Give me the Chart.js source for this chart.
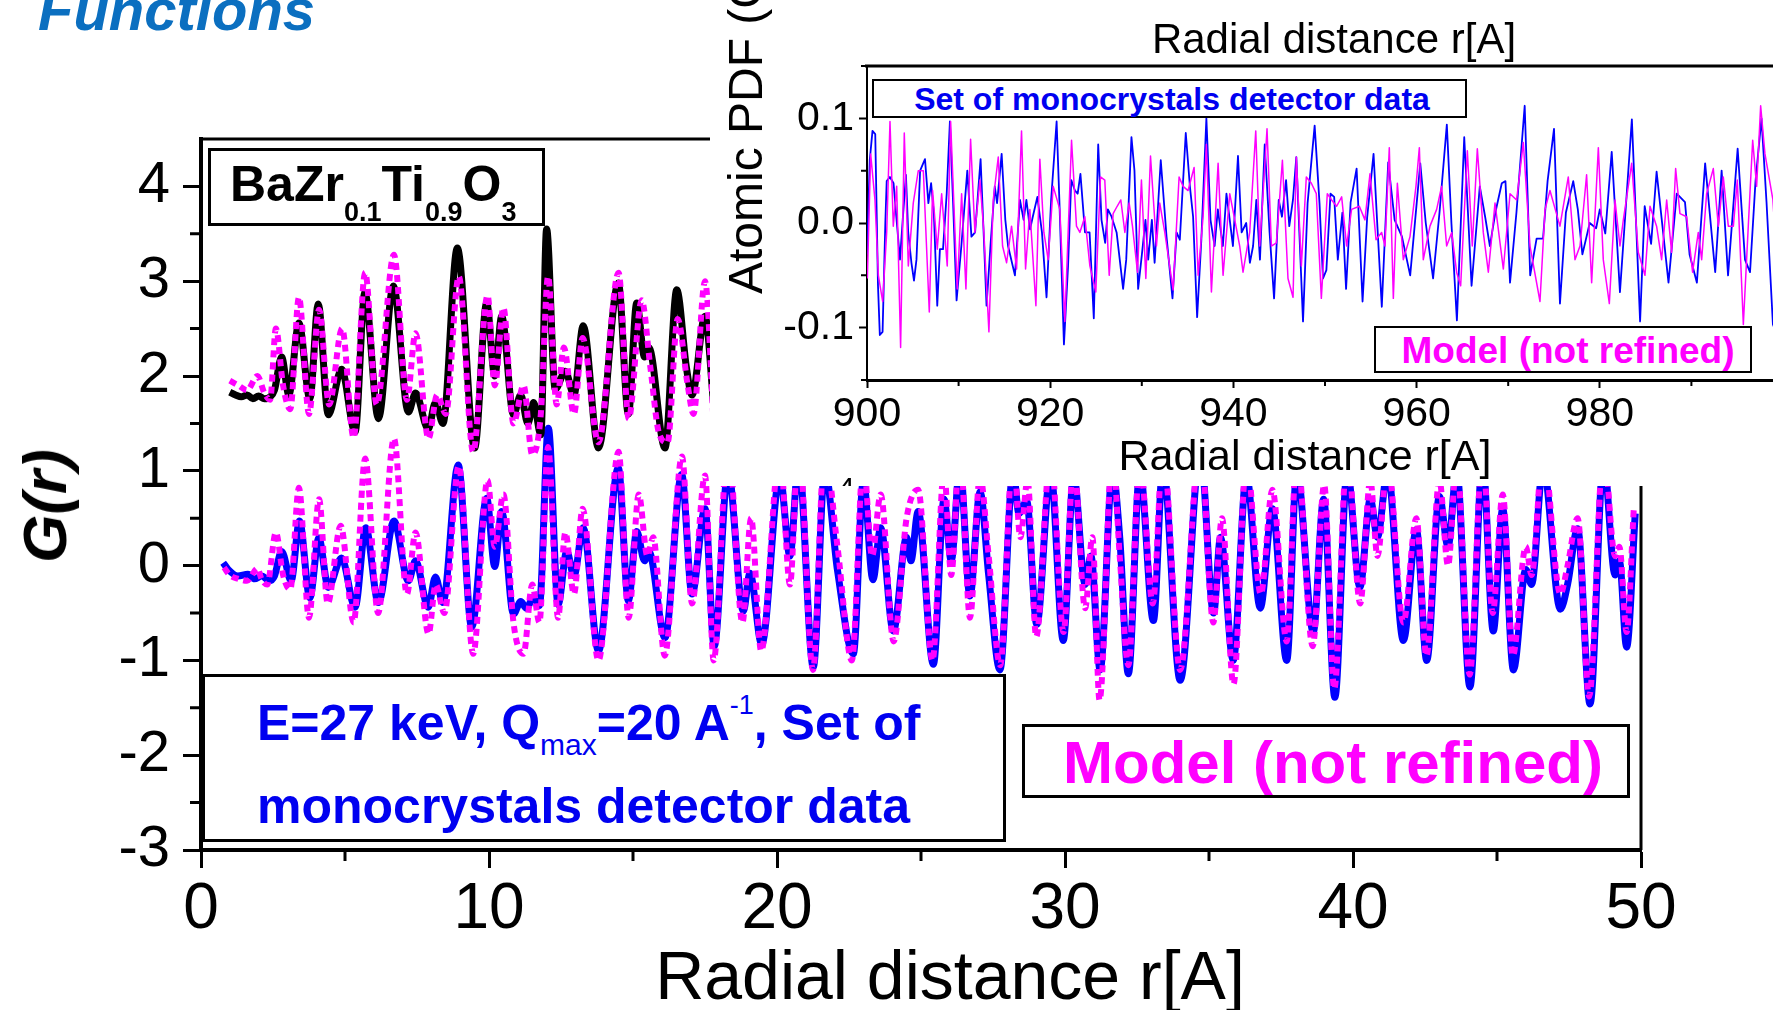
<!DOCTYPE html>
<html>
<head>
<meta charset="utf-8">
<title>G(r) - BaZr0.1Ti0.9O3</title>
<script src="https://cdn.jsdelivr.net/npm/chart.js"></script>
<style>
  html, body { margin: 0; padding: 0; background: #fff; overflow: hidden; }
  #page { position: relative; width: 1773px; height: 1010px; overflow: hidden; background: #fff;
          font-family: 'Liberation Sans', Arial, Helvetica, sans-serif; color: #000; }
  canvas { position: absolute; left: 0; top: 0; }
  .txt { position: absolute; white-space: nowrap; line-height: 1; }
  .box { position: absolute; box-sizing: border-box; border: 3px solid #000; background: #fff; }
  .sub { position: relative; top: 20px; font-size: 27px; }
  #inset { position: absolute; left: 710px; top: 0; width: 1090px; height: 486px; background: #fff; }
</style>
</head>
<body>
<div id="page">
  <canvas id="mainChart" width="1773" height="1010"></canvas>

  <!-- legend boxes of the main plot -->
  <div class="box" style="left:208px;top:148px;width:337px;height:78px;"></div>
  <div class="txt" style="left:230px;top:159px;font-size:50px;font-weight:bold;">BaZr<span class="sub">0.1</span>Ti<span class="sub">0.9</span>O<span class="sub">3</span></div>

  <div class="box" style="left:202px;top:674px;width:804px;height:168px;"></div>
  <div class="txt" style="left:257px;top:698px;font-size:50px;font-weight:bold;color:#0000f0;">E=27 keV, Q<span style="position:relative;top:15px;font-size:30px;font-weight:normal;">max</span>=20 A<span style="position:relative;top:-26px;font-size:27px;font-weight:normal;">-1</span>, Set of</div>
  <div class="txt" style="left:257px;top:781px;font-size:50px;font-weight:bold;color:#0000f0;">monocrystals detector data</div>

  <div class="box" style="left:1022px;top:724px;width:608px;height:74px;"></div>
  <div class="txt" style="left:1063px;top:733px;font-size:60px;font-weight:bold;color:#ff00ff;">Model (not refined)</div>

  <!-- axis titles -->
  <div class="txt" style="left:45px;top:506px;font-size:62px;font-weight:bold;font-style:italic;transform:translate(-50%,-50%) rotate(-90deg);">G(r)</div>
  <div class="txt" style="left:950px;top:941px;font-size:68px;transform:translateX(-50%);">Radial distance r[A]</div>

  <!-- far-r inset -->
  <div id="inset">
    <canvas id="insetChart" width="1090" height="486"></canvas>
    <div class="txt" style="left:624px;top:18px;font-size:42px;transform:translateX(-50%);">Radial distance r[A]</div>
    <div class="txt" style="left:595px;top:434px;font-size:43px;transform:translateX(-50%);">Radial distance r[A]</div>
    <div class="txt" style="left:12px;top:294px;font-size:48px;transform-origin:0 0;transform:rotate(-90deg);">Atomic PDF (G(r))</div>
    <div class="box" style="left:162px;top:79px;width:595px;height:39px;border-width:2px;"></div>
    <div class="txt" style="left:462px;top:83px;font-size:32px;font-weight:bold;color:#0000f0;transform:translateX(-50%);">Set of monocrystals detector data</div>
    <div class="box" style="left:664px;top:326px;width:378px;height:47px;border-width:2px;"></div>
    <div class="txt" style="left:858px;top:332px;font-size:37px;font-weight:bold;color:#ff00ff;transform:translateX(-50%);">Model (not refined)</div>
    <div style="position:absolute;left:128px;top:476px;width:20px;height:10px;overflow:hidden;">
      <div class="txt" style="left:0;top:-3px;font-size:30px;">4</div>
    </div>
  </div>

  <div class="txt" style="left:38px;top:-19px;font-size:58px;font-weight:bold;font-style:italic;color:#0b6fc0;">Functions</div>
</div>

<script>
// ---- main plot: G(r) vs r, points are [r, G] ----
const mainBlack = [[1.0,1.83],[1.2,1.80],[1.4,1.78],[1.6,1.80],[1.8,1.76],[2.0,1.79],[2.2,1.76],[2.4,1.78],[2.55,1.85],[2.8,2.20],
  [3.05,1.80],[3.4,2.56],[3.78,1.76],[4.07,2.76],[4.42,1.59],[4.88,2.07],[5.35,1.41],[5.69,2.88],[6.16,1.55],[6.68,2.95],
  [7.2,1.62],[7.45,1.82],[7.89,1.44],[8.14,1.72],[8.4,1.50],[8.9,3.35],[9.5,1.24],[9.92,2.77],[10.2,2.00],[10.44,2.63],
  [10.85,1.59],[11.1,1.80],[11.35,1.50],[11.55,1.72],[11.8,1.38],[12.0,3.55],[12.3,1.86],[12.65,2.05],[12.95,1.80],[13.27,2.53],
  [13.8,1.24],[14.49,2.98],[14.84,1.60],[15.13,2.77],[15.4,2.20],[15.55,2.30],[16.11,1.24],[16.52,2.91],[16.85,2.10],[17.05,1.80],
  [17.5,2.63],[17.8,1.70]];

const mainModelTop = [[1.0,1.95],[1.3,1.90],[1.6,1.85],[1.96,2.00],[2.2,1.82],[2.4,1.75],[2.6,2.50],[2.85,1.90],[3.1,1.65],[3.4,2.83],
  [3.75,1.60],[4.1,2.70],[4.45,1.70],[4.9,2.50],[5.3,1.35],[5.7,3.09],[6.1,1.70],[6.7,3.28],[7.15,1.75],[7.45,2.45],
  [7.9,1.34],[8.2,1.80],[8.5,1.60],[8.95,3.05],[9.45,1.20],[9.95,2.85],[10.2,1.90],[10.5,2.72],[10.85,1.50],[11.2,1.90],
  [11.5,1.17],[11.8,1.60],[12.05,3.05],[12.35,1.70],[12.6,2.30],[12.95,1.60],[13.25,2.40],[13.8,1.30],[14.5,3.09],[14.85,1.55],
  [15.3,2.80],[15.6,2.10],[15.9,1.40],[16.2,1.30],[16.55,2.60],[16.9,1.90],[17.1,1.60],[17.5,3.00],[17.8,1.50]];

const mainBlue = [[0.77,0.03],[0.94,-0.04],[1.28,-0.11],[1.63,-0.09],[1.86,-0.14],[2.1,-0.11],[2.38,-0.16],[2.55,-0.11],[2.8,0.15],[3.13,-0.16],
  [3.42,0.47],[3.78,-0.34],[4.09,0.29],[4.42,-0.23],[4.88,0.08],[5.35,-0.44],[5.72,0.40],[6.16,-0.39],[6.7,0.47],[7.2,-0.16],
  [7.45,0.05],[7.89,-0.44],[8.14,-0.12],[8.4,-0.39],[8.93,1.06],[9.4,-0.65],[9.92,0.71],[10.2,-0.01],[10.44,0.57],[10.85,-0.51],
  [11.1,-0.38],[11.3,-0.45],[11.55,-0.33],[11.75,-0.42],[12.06,1.45],[12.4,-0.41],[12.7,0.15],[12.95,-0.11],[13.27,0.40],[13.8,-0.90],
  [14.49,1.03],[14.84,-0.37],[15.13,0.36],[15.4,0.05],[15.55,0.15],[16.11,-0.76],[16.69,0.96],[17.05,-0.30],[17.5,0.60],[17.82,-0.85],
  [18.3,1.00],[18.83,-0.48],[19.06,-0.08],[19.47,-0.83],[20.1,0.95],[20.45,0.10],[20.75,1.10],[21.26,-1.07],[21.66,1.00],[22.1,-0.05],
  [22.65,-0.93],[23.0,0.90],[23.33,-0.15],[23.6,0.40],[24.04,-0.69],[24.5,0.30],[24.65,0.05],[24.9,0.57],[25.43,-1.04],[25.8,0.70],
  [26.05,0.05],[26.35,1.05],[26.7,-0.32],[27.05,0.78],[27.35,-0.10],[27.74,-1.10],[28.2,1.00],[28.4,0.55],[28.67,0.68],[29.02,-0.62],
  [29.5,1.00],[29.94,-0.79],[30.3,0.95],[30.7,-0.20],[30.9,0.10],[31.22,-1.10],[31.65,1.00],[31.9,0.30],[32.2,-1.14],[32.6,1.00],
  [33.07,-0.58],[33.4,1.05],[34.0,-1.21],[34.7,1.20],[35.16,-0.50],[35.4,0.30],[35.84,-1.00],[36.3,0.95],[36.78,-0.45],[37.2,0.60],
  [37.7,-1.00],[38.05,1.00],[38.62,-0.70],[38.98,0.70],[39.37,-1.39],[39.8,1.00],[40.24,-0.23],[40.6,0.70],[40.85,0.30],[41.2,1.00],
  [41.75,-0.79],[42.2,0.38],[42.56,-1.00],[43.0,0.73],[43.3,0.20],[43.6,1.00],[44.06,-1.28],[44.5,1.10],[44.87,-0.69],[45.2,0.60],
  [45.57,-1.10],[46.0,-0.04],[46.2,-0.20],[46.6,1.05],[47.2,-0.46],[47.45,-0.20],[47.8,0.39],[48.23,-1.46],[48.7,1.10],[49.1,-0.10],
  [49.25,0.05],[49.5,-0.86],[49.8,0.55]];

const mainModel = [[0.8,-0.02],[1.0,-0.10],[1.3,-0.14],[1.6,-0.16],[1.96,-0.03],[2.1,-0.14],[2.3,-0.20],[2.6,0.35],[2.85,-0.10],[3.1,-0.25],
  [3.4,0.82],[3.75,-0.55],[4.1,0.70],[4.4,-0.40],[4.85,0.42],[5.3,-0.60],[5.7,1.13],[6.15,-0.50],[6.7,1.34],[7.15,-0.30],
  [7.45,0.35],[7.9,-0.72],[8.15,-0.20],[8.45,-0.50],[8.95,1.05],[9.45,-0.93],[9.95,0.90],[10.2,0.20],[10.5,0.75],[10.85,-0.60],
  [11.2,-0.93],[11.5,-0.20],[11.75,-0.60],[12.05,1.25],[12.4,-0.55],[12.65,0.35],[12.95,-0.30],[13.25,0.60],[13.8,-1.00],[14.5,1.20],
  [14.85,-0.55],[15.2,0.75],[15.5,0.10],[15.7,0.30],[16.1,-0.95],[16.7,1.15],[17.05,-0.40],[17.5,0.95],[17.8,-1.00],[18.3,1.30],
  [18.8,-0.60],[19.1,0.50],[19.45,-0.90],[20.1,1.20],[20.45,-0.20],[20.75,1.30],[21.25,-1.10],[21.65,1.20],[22.1,0.20],[22.6,-1.00],
  [23.0,1.10],[23.3,0.10],[23.6,0.75],[24.05,-0.80],[24.5,0.50],[24.9,0.80],[25.4,-1.00],[25.8,1.00],[26.05,-0.10],[26.35,1.25],
  [26.7,-0.55],[27.05,0.95],[27.35,0.10],[27.75,-1.05],[28.2,1.20],[28.45,0.30],[28.7,0.90],[29.0,-0.75],[29.5,1.20],[29.95,-0.70],
  [30.3,1.10],[30.7,-0.45],[30.95,0.30],[31.2,-1.42],[31.65,1.20],[31.9,0.10],[32.2,-1.05],[32.6,1.10],[33.05,-0.40],[33.4,1.20],
  [34.0,-1.10],[34.7,1.30],[35.15,-0.60],[35.45,0.50],[35.85,-1.25],[36.3,1.10],[36.8,-0.30],[37.2,0.80],[37.7,-0.80],[38.05,1.20],
  [38.6,-0.85],[39.0,0.85],[39.35,-1.30],[39.8,1.20],[40.25,-0.40],[40.6,0.90],[40.85,0.10],[41.2,1.10],[41.75,-0.60],[42.2,0.50],
  [42.55,-0.95],[43.0,0.90],[43.3,0.00],[43.6,1.10],[44.05,-1.15],[44.5,1.20],[44.85,-0.50],[45.2,0.75],[45.55,-0.95],[46.0,0.20],
  [46.2,-0.10],[46.6,1.20],[47.2,-0.30],[47.45,0.00],[47.8,0.50],[48.2,-1.38],[48.7,1.20],[49.1,0.10],[49.25,0.20],[49.5,-0.70],
  [49.75,0.60]];

const mainXTicks = [0, 10, 20, 30, 40, 50];
const mainXMinor = [5, 15, 25, 35, 45];
const mainYTicks = [-3, -2, -1, 0, 1, 2, 3, 4];
const mainYMinor = [-2.5, -1.5, -0.5, 0.5, 1.5, 2.5, 3.5];

// ---- inset: atomic PDF between 900 and 1000 A ----
const insetBlue = [[900.0,-0.030],[900.3,0.060],[900.6,0.088],[900.9,0.085],[901.2,-0.060],[901.4,-0.107],[901.7,-0.104],[902.0,0.000],
  [902.15,0.040],[902.5,0.044],[902.9,0.038],[903.2,0.006],[903.6,-0.035],[903.9,0.003],[904.25,0.046],[904.5,-0.009],
  [904.85,-0.038],[905.13,-0.055],[905.4,-0.035],[905.8,0.050],[906.33,0.061],[906.7,0.019],[907.0,0.038],[907.3,0.009],
  [907.67,-0.079],[907.96,-0.025],[908.3,-0.025],[908.7,0.028],[909.05,0.097],[909.4,0.019],[909.78,-0.074],[910.3,-0.022],
  [910.95,0.050],[911.4,-0.013],[911.8,-0.009],[912.4,0.061],[912.75,-0.013],[913.05,-0.079],[913.5,-0.019],[913.95,0.035],
  [914.2,0.019],[914.7,0.066],[915.1,0.003],[915.4,-0.022],[916.15,-0.050],[916.7,0.022],[917.1,0.003],[917.4,0.022],
  [917.8,-0.006],[918.1,0.006],[918.6,0.025],[919.1,-0.009],[919.6,-0.071],[920.1,0.022],[920.7,0.097],[921.0,0.022],
  [921.5,-0.116],[921.95,-0.041],[922.3,0.041],[922.7,0.031],[923.0,0.028],[923.3,0.047],[923.8,-0.009],[924.3,-0.009],
  [924.76,-0.091],[925.24,0.075],[925.6,0.003],[926.0,-0.019],[926.3,0.013],[926.7,0.006],[927.25,-0.009],[927.96,-0.063],
  [928.3,-0.035],[928.87,0.082],[929.2,0.050],[929.6,-0.063],[930.0,-0.031],[930.4,0.003],[930.7,-0.035],[931.1,0.003],
  [931.4,-0.038],[932.07,0.060],[932.4,0.022],[932.7,-0.013],[933.35,-0.072],[933.8,-0.009],[934.15,-0.016],[934.8,0.086],
  [935.25,0.035],[935.6,0.006],[936.04,-0.090],[936.5,-0.016],[937.05,0.100],[937.5,0.003],[937.95,-0.022],[938.3,0.013],
  [938.85,-0.022],[939.24,0.028],[939.6,0.003],[939.95,-0.022],[940.5,0.064],[940.9,-0.009],[941.4,0.000],[941.8,-0.038],
  [942.15,-0.022],[942.5,0.022],[942.9,-0.035],[943.42,0.075],[943.95,-0.009],[944.44,-0.072],[944.95,0.022],[945.3,0.006],
  [945.75,0.041],[946.1,-0.003],[946.5,0.022],[946.87,0.063],[947.2,-0.009],[947.6,-0.094],[948.1,0.019],[948.87,0.093],
  [949.4,0.019],[949.78,-0.053],[950.15,-0.045],[950.6,0.028],[951.0,0.025],[951.4,-0.035],[951.9,0.010],[952.3,-0.063],
  [952.8,0.020],[953.45,0.052],[954.1,-0.075],[954.6,0.005],[955.3,0.066],[955.7,0.000],[956.2,-0.080],[956.9,0.058],
  [957.6,0.003],[958.4,-0.013],[959.3,-0.050],[960.4,0.057],[961.0,0.000],[961.8,-0.053],[962.5,0.010],[963.3,0.094],
  [963.8,0.000],[964.4,-0.093],[965.2,0.082],[966.0,-0.060],[966.9,0.035],[967.5,0.005],[968.0,-0.022],[968.6,0.010],
  [969.3,0.038],[969.7,0.040],[970.2,-0.057],[970.9,0.010],[971.8,0.112],[972.4,-0.050],[973.1,-0.015],[973.8,-0.015],
  [974.3,0.040],[975.0,0.090],[975.65,-0.077],[976.3,0.010],[977.1,0.040],[977.6,0.013],[978.1,-0.030],[978.9,0.000],
  [979.6,-0.005],[980.0,0.013],[980.6,-0.010],[981.3,0.068],[982.2,-0.066],[982.8,0.010],[983.5,0.099],[984.4,-0.094],
  [984.9,0.016],[985.6,-0.020],[986.2,0.049],[987.5,-0.057],[988.4,0.028],[989.3,0.020],[989.8,-0.030],[990.6,-0.057],
  [991.5,0.057],[992.6,-0.047],[993.3,0.050],[994.0,-0.050],[995.05,0.071],[995.85,-0.035],[996.4,-0.047],[997.0,0.040],
  [997.65,0.100],[998.2,0.020],[998.9,-0.097],[999.5,-0.110]];

const insetModel = [[900.04,-0.053],[900.4,0.066],[900.87,0.022],[901.24,-0.050],[901.71,-0.075],[902.15,-0.009],[902.51,0.097],[902.87,-0.003],
  [903.24,0.035],[903.67,-0.119],[904.07,0.086],[904.51,-0.041],[905.05,0.019],[905.6,0.050],[906.15,0.050],[906.8,-0.085],
  [907.16,0.031],[907.67,-0.025],[908.15,0.028],[908.76,-0.041],[909.13,0.097],[909.85,-0.063],[910.33,0.028],[910.8,-0.063],
  [911.31,0.080],[911.78,-0.009],[912.33,0.041],[912.76,-0.009],[913.31,-0.104],[913.78,0.022],[914.33,0.063],[914.8,-0.022],
  [915.24,-0.038],[915.78,-0.003],[916.33,-0.044],[916.87,0.088],[917.31,-0.044],[917.78,0.013],[918.44,-0.079],[918.87,0.061],
  [919.31,-0.009],[919.78,-0.035],[920.33,0.035],[921.05,0.013],[921.6,-0.094],[922.33,0.079],[922.87,-0.003],[923.24,-0.009],
  [923.78,0.006],[924.33,-0.041],[924.98,-0.066],[925.49,0.044],[925.96,0.041],[926.44,-0.050],[926.87,0.009],[927.31,0.016],
  [927.71,0.022],[928.15,-0.009],[928.62,0.019],[928.98,-0.003],[929.53,-0.047],[929.96,0.041],[930.44,-0.053],[930.95,0.064],
  [931.6,-0.022],[931.96,0.019],[932.51,-0.009],[933.42,-0.064],[934.07,0.044],[934.51,0.035],[935.05,0.031],[935.71,0.053],
  [936.15,-0.050],[936.69,0.006],[937.05,0.075],[937.6,-0.066],[938.33,0.057],[938.87,-0.050],[939.6,0.028],[940.15,0.003],
  [940.69,-0.022],[941.05,-0.047],[941.78,-0.009],[942.44,0.088],[942.87,-0.022],[943.24,0.028],[943.67,0.090],[944.15,-0.022],
  [944.69,-0.019],[945.35,0.060],[945.96,-0.053],[946.51,-0.071],[946.87,0.063],[947.42,-0.041],[947.96,0.044],[948.51,0.038],
  [949.05,0.028],[949.6,-0.072],[950.25,0.028],[950.72,0.022],[951.27,0.016],[951.82,0.025],[952.36,-0.022],[952.9,0.013],
  [953.75,0.016],[954.36,0.003],[954.91,0.047],[955.57,-0.016],[956.18,-0.009],[956.55,-0.022],[957.02,0.072],[957.46,-0.072],
  [957.9,0.038],[958.55,-0.035],[959.28,-0.013],[959.93,0.035],[960.3,0.072],[960.73,-0.035],[961.46,-0.003],[962.19,0.013],
  [962.73,0.035],[963.28,-0.022],[963.83,-0.009],[964.37,-0.047],[964.81,-0.060],[965.54,0.069],[966.08,-0.022],[966.63,0.071],
  [967.28,-0.009],[967.83,-0.047],[968.56,0.019],[969.47,-0.044],[970.2,0.028],[970.92,0.022],[971.65,0.077],[972.38,-0.022],
  [973.47,-0.075],[974.02,0.013],[974.56,0.031],[975.65,-0.003],[976.56,0.044],[977.29,-0.035],[977.84,-0.022],[978.56,0.046],
  [979.11,-0.057],[979.84,0.072],[980.38,-0.035],[981.04,-0.077],[981.66,0.022],[982.2,-0.022],[982.57,0.003],[983.48,0.057],
  [984.2,-0.028],[984.93,-0.050],[985.48,0.016],[986.2,-0.003],[986.75,-0.035],[987.3,0.022],[987.84,-0.028],[988.28,0.052],
  [988.75,0.009],[989.48,0.006],[990.13,-0.047],[990.75,-0.009],[991.12,-0.035],[991.66,0.028],[992.39,0.052],[992.94,-0.003],
  [993.48,0.044],[994.03,-0.003],[994.58,-0.003],[995.01,0.041],[995.67,-0.097],[996.21,-0.003],[996.69,0.079],[997.12,0.035],
  [997.56,0.112],[998.03,0.066],[998.9,0.022],[999.5,-0.060]];

const insetXTicks = [900, 920, 940, 960, 980];
const insetXMinor = [910, 930, 950, 970, 990];
const insetYTicks = [-0.1, 0, 0.1];
const insetYMinor = [-0.15, -0.05, 0.05, 0.15];

Chart.defaults.font.family = "'Liberation Sans', Arial, Helvetica, sans-serif";
Chart.defaults.color = '#000';

const toXY = pts => pts.map(([x, y]) => ({ x: x, y: y }));

// minor ticks + top/right frame lines, all placed with the chart's own scales
const axisExtras = {
  id: 'axisExtras',
  afterDraw(chart, args, opts) {
    const ctx = chart.ctx;
    const a = chart.chartArea;
    const sx = chart.scales.x, sy = chart.scales.y;
    ctx.save();
    ctx.strokeStyle = '#000';
    ctx.lineWidth = opts.minorWidth;
    ctx.beginPath();
    opts.minorX.forEach(v => {
      const px = sx.getPixelForValue(v);
      ctx.moveTo(px, a.bottom);
      ctx.lineTo(px, a.bottom + opts.minorLen);
    });
    opts.minorY.forEach(v => {
      const py = sy.getPixelForValue(v);
      ctx.moveTo(a.left, py);
      ctx.lineTo(a.left - opts.minorLen, py);
    });
    ctx.stroke();
    ctx.lineWidth = opts.frameWidth;
    ctx.beginPath();
    ctx.moveTo(a.left - 2, a.top);
    ctx.lineTo(a.right, a.top);
    ctx.lineTo(a.right, a.bottom);
    ctx.stroke();
    ctx.restore();
  }
};

function fixedTicks(values) {
  return scale => { scale.ticks = values.map(v => ({ value: v })); };
}

new Chart(document.getElementById('mainChart'), {
  type: 'line',
  data: {
    datasets: [
      { label: 'Model (not refined)', data: toXY(mainModelTop), borderColor: '#ff00ff', borderWidth: 6, borderDash: [7, 5], order: 0 },
      { label: 'BaZr0.1Ti0.9O3', data: toXY(mainBlack), borderColor: '#000000', borderWidth: 7, order: 1 },
      { label: 'Model (not refined)', data: toXY(mainModel), borderColor: '#ff00ff', borderWidth: 6, borderDash: [7, 5], order: 0 },
      { label: 'Set of monocrystals detector data', data: toXY(mainBlue), borderColor: '#0000ff', borderWidth: 7, order: 1 }
    ]
  },
  options: {
    responsive: false,
    animation: false,
    events: [],
    layout: { padding: { top: 139, right: 132, left: 0, bottom: 0 } },
    elements: {
      point: { radius: 0 },
      line: { cubicInterpolationMode: 'monotone', borderJoinStyle: 'round', fill: false }
    },
    plugins: {
      legend: { display: false },
      tooltip: { enabled: false },
      axisExtras: { minorX: mainXMinor, minorY: mainYMinor, minorLen: 11, minorWidth: 3, frameWidth: 3 }
    },
    scales: {
      x: {
        type: 'linear', min: 0, max: 50,
        afterBuildTicks: fixedTicks(mainXTicks),
        afterFit: s => { s.height = 160; s.paddingLeft = 0; s.paddingRight = 0; },
        ticks: { font: { size: 64 }, color: '#000', padding: 4, maxRotation: 0, autoSkip: false, callback: v => String(v) },
        grid: { drawOnChartArea: false, drawTicks: true, tickLength: 18, tickWidth: 3, tickColor: '#000' },
        border: { display: true, color: '#000', width: 4 }
      },
      y: {
        type: 'linear', min: -3, max: 4.5,
        afterBuildTicks: fixedTicks(mainYTicks),
        afterFit: s => { s.width = 201; s.paddingTop = 0; s.paddingBottom = 0; },
        ticks: { font: { size: 58 }, color: '#000', padding: 13, autoSkip: false, callback: v => String(v) },
        grid: { drawOnChartArea: false, drawTicks: true, tickLength: 18, tickWidth: 3, tickColor: '#000' },
        border: { display: true, color: '#000', width: 4 }
      }
    }
  },
  plugins: [axisExtras]
});

new Chart(document.getElementById('insetChart'), {
  type: 'line',
  data: {
    datasets: [
      { label: 'Model (not refined)', data: toXY(insetModel), borderColor: '#ff00ff', borderWidth: 1.5, order: 0 },
      { label: 'Set of monocrystals detector data', data: toXY(insetBlue), borderColor: '#0000ff', borderWidth: 1.8, order: 1 }
    ]
  },
  options: {
    responsive: false,
    animation: false,
    events: [],
    layout: { padding: { top: 66, right: 17, left: 0, bottom: 0 } },
    elements: {
      point: { radius: 0 },
      line: { tension: 0, borderJoinStyle: 'round', fill: false }
    },
    plugins: {
      legend: { display: false },
      tooltip: { enabled: false },
      axisExtras: { minorX: insetXMinor, minorY: insetYMinor, minorLen: 6, minorWidth: 2, frameWidth: 3 }
    },
    scales: {
      x: {
        type: 'linear', min: 900, max: 1000,
        afterBuildTicks: fixedTicks(insetXTicks),
        afterFit: s => { s.height = 106; s.paddingLeft = 0; s.paddingRight = 0; },
        ticks: { font: { size: 41 }, color: '#000', padding: 2, maxRotation: 0, autoSkip: false, callback: v => String(v) },
        grid: { drawOnChartArea: false, drawTicks: true, tickLength: 8, tickWidth: 2, tickColor: '#000' },
        border: { display: true, color: '#000', width: 3 }
      },
      y: {
        type: 'linear', min: -0.15, max: 0.15,
        afterBuildTicks: fixedTicks(insetYTicks),
        afterFit: s => { s.width = 157; s.paddingTop = 0; s.paddingBottom = 0; },
        ticks: { font: { size: 41 }, color: '#000', padding: 5, autoSkip: false, callback: v => v.toFixed(1) },
        grid: { drawOnChartArea: false, drawTicks: true, tickLength: 8, tickWidth: 2, tickColor: '#000' },
        border: { display: true, color: '#000', width: 2 }
      }
    }
  },
  plugins: [axisExtras]
});
</script>
</body>
</html>
